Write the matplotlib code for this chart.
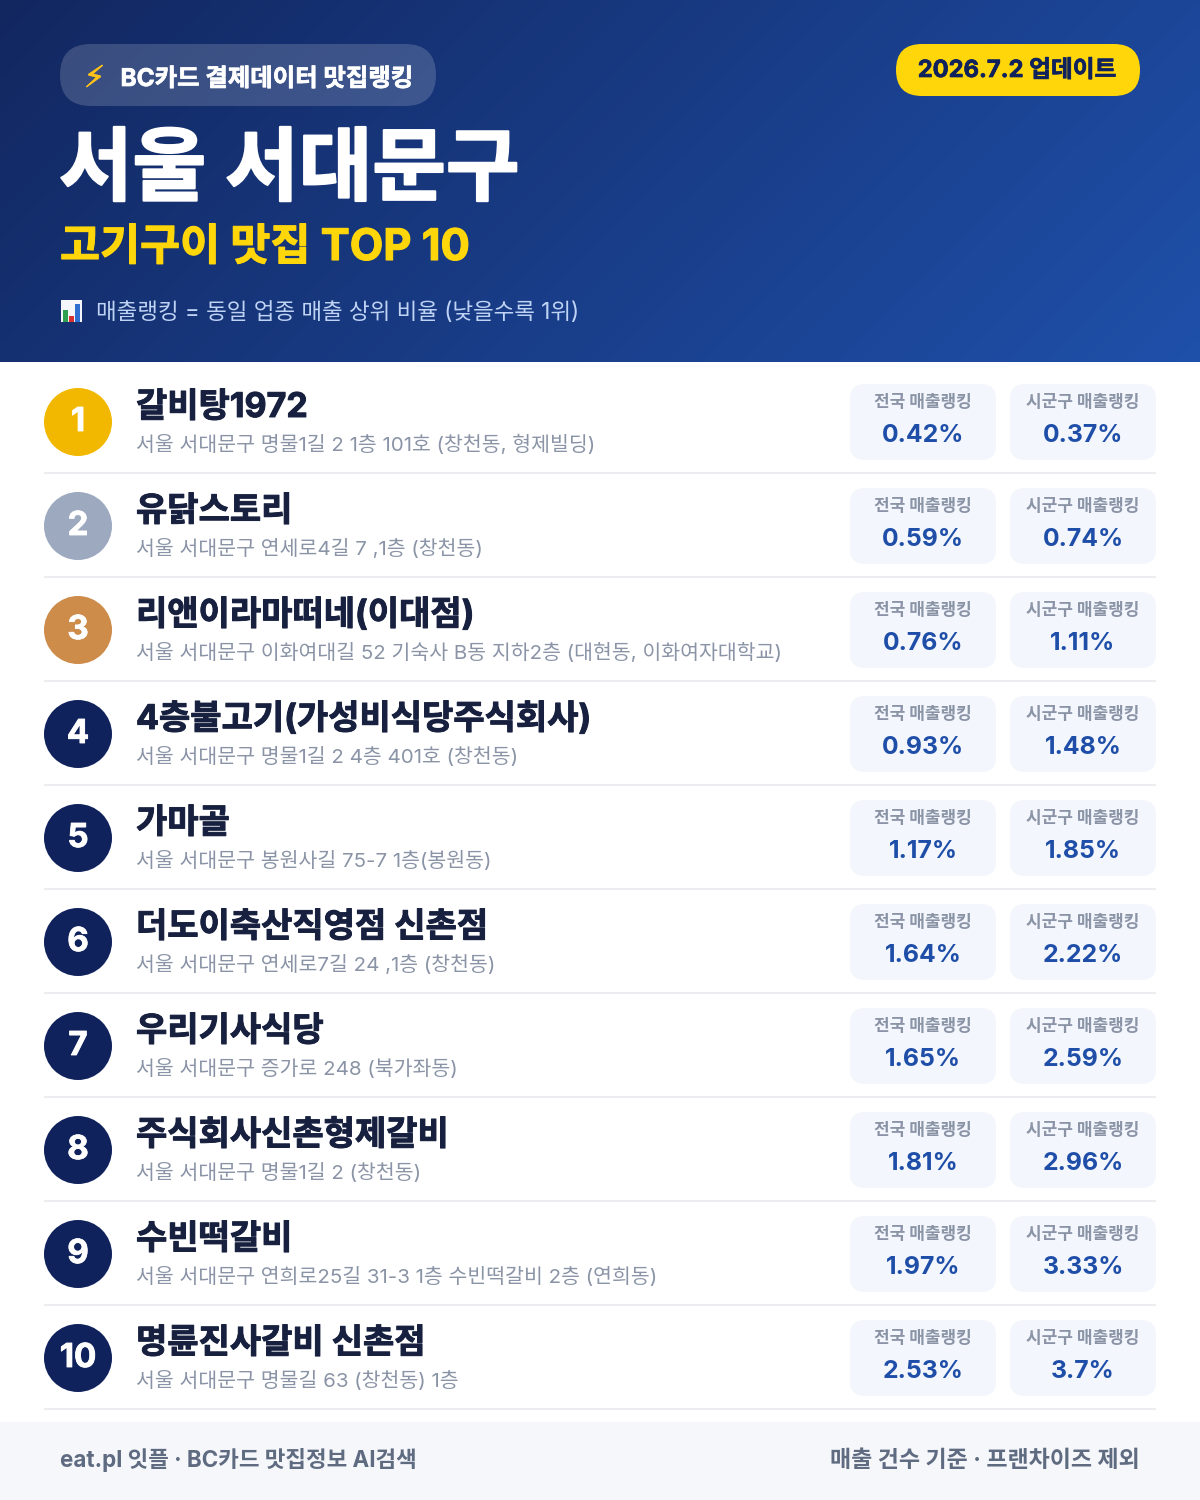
import numpy as np
import matplotlib
matplotlib.use("Agg")
import matplotlib.pyplot as plt
import matplotlib.patheffects as pe
from matplotlib.patches import FancyBboxPatch, Circle, Rectangle

FAM = ['Inter', 'Noto Sans CJK KR', 'DejaVu Sans']
plt.rcParams['font.family'] = FAM

ranks = [1, 2, 3, 4, 5, 6, 7, 8, 9, 10]
names = ["갈비탕1972", "유닭스토리", "리앤이라마떠네(이대점)", "4층불고기(가성비식당주식회사)", "가마골",
         "더도이축산직영점 신촌점", "우리기사식당", "주식회사신촌형제갈비", "수빈떡갈비", "명륜진사갈비 신촌점"]
addresses = ["서울 서대문구 명물1길 2 1층 101호 (창천동, 형제빌딩)",
             "서울 서대문구 연세로4길 7 ,1층 (창천동)",
             "서울 서대문구 이화여대길 52 기숙사 B동 지하2층 (대현동, 이화여자대학교)",
             "서울 서대문구 명물1길 2 4층 401호 (창천동)",
             "서울 서대문구 봉원사길 75-7 1층(봉원동)",
             "서울 서대문구 연세로7길 24 ,1층 (창천동)",
             "서울 서대문구 증가로 248 (북가좌동)",
             "서울 서대문구 명물1길 2 (창천동)",
             "서울 서대문구 연희로25길 31-3 1층 수빈떡갈비 2층 (연희동)",
             "서울 서대문구 명물길 63 (창천동) 1층"]
national = [0.42, 0.59, 0.76, 0.93, 1.17, 1.64, 1.65, 1.81, 1.97, 2.53]
district = [0.37, 0.74, 1.11, 1.48, 1.85, 2.22, 2.59, 2.96, 3.33, 3.7]
circle_colors = ["#F2B800", "#9CA9BF", "#CD8C4A"] + ["#10225C"] * 7

PX = 0.72
fig = plt.figure(figsize=(12, 15), dpi=100, facecolor="white")
ax = fig.add_axes([0, 0, 1, 1])
ax.set_xlim(0, 1200)
ax.set_ylim(1500, 0)
ax.axis("off")


def T(x, y, s, px, color, weight="regular", ha="left", stroke=0, **kw):
    t = ax.text(x, y, s, fontsize=px * PX, color=color, fontweight=weight,
                ha=ha, va="baseline", **kw)
    if stroke:
        t.set_path_effects([pe.withStroke(linewidth=stroke, foreground=color)])
    return t


def RR(x0, y0, x1, y1, r, color, alpha=1.0, z=1):
    ax.add_patch(FancyBboxPatch((x0 + r, y0 + r), x1 - x0 - 2 * r, y1 - y0 - 2 * r,
                                boxstyle=f"round,pad={r},rounding_size={r}",
                                fc=color, ec="none", alpha=alpha, zorder=z))


# header gradient
gx, gy = np.meshgrid(np.linspace(0, 1, 300), np.linspace(0, 1, 100))
g = (gx * 1200 + gy * 362) / (1200 + 362)
c0 = np.array([0x12, 0x27, 0x60]) / 255
c1 = np.array([0x1F, 0x50, 0xAA]) / 255
img = c0[None, None, :] + (c1 - c0)[None, None, :] * g[:, :, None]
ax.imshow(img, extent=(0, 1200, 362, 0), aspect="auto", zorder=0, interpolation="bilinear")
ax.set_xlim(0, 1200)
ax.set_ylim(1500, 0)

# header pills
RR(60, 44, 436, 106, 31, "#FFFFFF", alpha=0.17, z=1)
T(84, 87, "⚡", 30, "#FFC21A", family="DejaVu Sans", stroke=0.6, zorder=3)
T(120.5, 86, "BC카드 결제데이터 맛집랭킹", 24.4, "#FFFFFF", "bold", stroke=0.5, zorder=3)
RR(896, 44, 1140, 96, 26, "#FFD60A", z=1)
T(1017, 77, "2026.7.2 업데이트", 23.7, "#10225C", "bold", ha="center", stroke=0.5, zorder=3)

T(59, 194, "서울 서대문구", 80, "#FFFFFF", "bold", stroke=1.5, zorder=3)
T(60, 260, "고기구이 맛집 TOP 10", 43.5, "#FFD60A", "bold", stroke=0.8, zorder=3)

# chart icon
ax.add_patch(Rectangle((61, 300), 21, 22, fc="#F4F6FA", ec="none", zorder=3))
for bx, bt, col in [(63, 310, "#2E9E4F"), (69, 316, "#D8302F"), (75, 304, "#2F6FD0")]:
    ax.add_patch(Rectangle((bx, bt), 5, 322 - bt, fc=col, ec="none", zorder=4))
T(96, 319, "매출랭킹 = 동일 업종 매출 상위 비율 (낮을수록 1위)", 22.5, "#BFD3F5", zorder=3)

# rows
for i, rank in enumerate(ranks):
    dy = 104 * i
    ax.add_patch(Circle((78, 422 + dy), 34, fc=circle_colors[i], ec="none", zorder=2))
    T(78, 431 + dy, str(rank), 33, "white", "bold", ha="center", stroke=0.6, zorder=3)
    T(136, 417 + dy, names[i], 34, "#17213F", "bold", stroke=0.7, zorder=3)
    T(136, 451 + dy, addresses[i], 20.5, "#8A94A6", zorder=3)
    for x0, x1, label, val in [(850, 996, "전국 매출랭킹", national[i]),
                               (1010, 1156, "시군구 매출랭킹", district[i])]:
        RR(x0, 384 + dy, x1, 460 + dy, 15, "#F3F6FC", z=1)
        cx = (x0 + x1) / 2
        T(cx, 407 + dy, label, 17, "#8A94A6", "bold", ha="center", zorder=3)
        T(cx, 441.5 + dy, f"{val:g}%", 24.8, "#1E4EA8", "bold", ha="center", zorder=3)
    ax.plot([44, 1156], [473 + dy, 473 + dy], color="#EBEDF0", lw=1.5, zorder=1,
            solid_capstyle="butt")

# footer
ax.add_patch(Rectangle((0, 1422), 1200, 78, fc="#F5F7FB", ec="none", zorder=1))
T(60, 1467, "eat.pl 잇플 · BC카드 맛집정보 AI검색", 22.4, "#5F6B80", "bold", zorder=3)
T(1140, 1467, "매출 건수 기준 · 프랜차이즈 제외", 23, "#5F6B80", "bold", ha="right", zorder=3)

fig.savefig("out.png", dpi=100)
